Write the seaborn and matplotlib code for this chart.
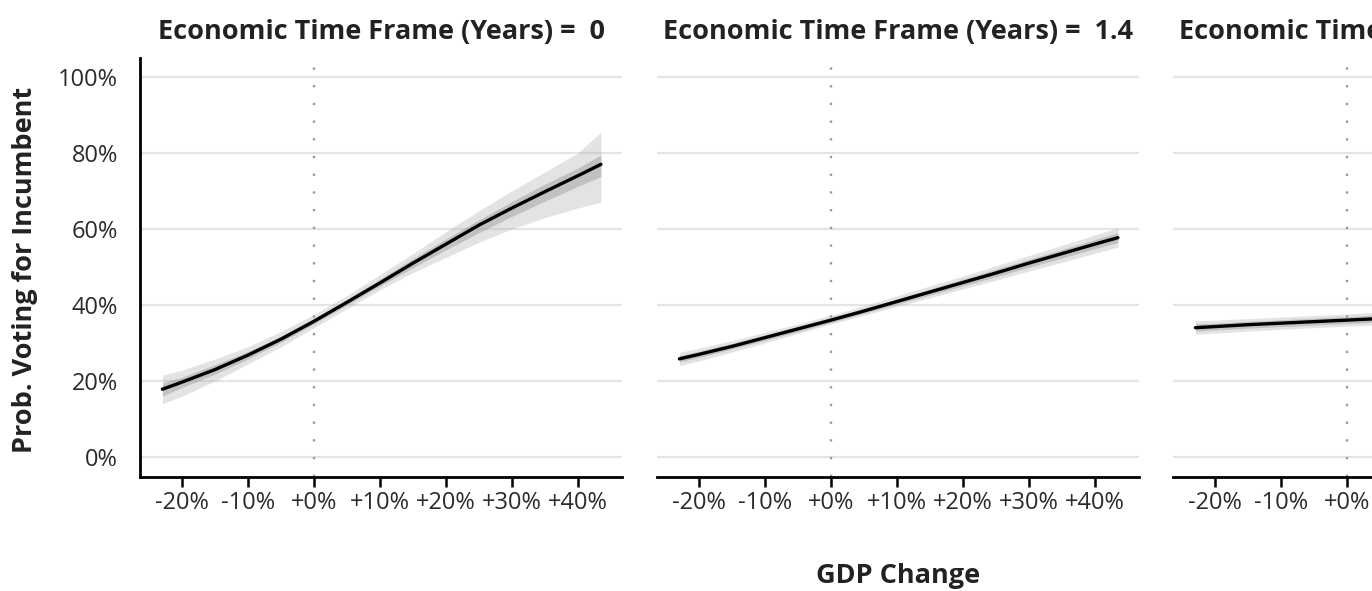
import matplotlib
matplotlib.use("Agg")
import matplotlib.pyplot as plt
import seaborn as sns
import pandas as pd
import numpy as np

# ---------------- data ----------------
gdp_change = [-23, -20, -15, -10, -5, 0, 5, 10, 15, 20, 25, 30, 35, 40, 43.5]
time_frames = ["0", "1.4", "2.8"]

prob_tf0 = [17.8, 19.7, 23.0, 26.8, 31.0, 35.7, 40.7, 45.8, 51.0, 56.0, 61.0, 65.5, 69.8, 74.0, 77.0]
prob_tf1 = [25.8, 27.0, 29.1, 31.4, 33.7, 36.0, 38.4, 40.9, 43.4, 45.9, 48.4, 51.0, 53.5, 56.0, 57.7]
prob_tf2 = [34.0, 34.3, 34.8, 35.2, 35.6, 36.0, 36.4, 36.9, 37.3, 37.8, 38.2, 38.7, 39.1, 39.6, 39.9]

outer_hi_tf0 = [21.5, 22.8, 25.8, 29.0, 33.0, 37.5, 42.5, 48.0, 53.5, 59.3, 64.8, 70.0, 75.0, 80.0, 85.5]
outer_lo_tf0 = [14.0, 16.0, 20.0, 24.5, 29.0, 34.0, 39.0, 44.0, 48.5, 52.5, 56.5, 60.0, 63.0, 65.5, 67.0]
inner_hi_tf0 = [19.5, 21.0, 24.3, 27.8, 31.8, 36.5, 41.5, 46.8, 52.2, 57.4, 62.4, 67.2, 71.8, 76.0, 79.5]
inner_lo_tf0 = [16.0, 18.3, 21.8, 25.8, 30.2, 35.0, 40.0, 45.0, 49.8, 54.5, 59.0, 63.3, 67.3, 71.2, 73.8]

outer_hi_tf1 = [27.5, 28.6, 30.6, 32.8, 35.0, 37.3, 39.8, 42.4, 45.0, 47.6, 50.3, 53.0, 55.7, 58.4, 60.3]
outer_lo_tf1 = [24.0, 25.3, 27.6, 30.0, 32.5, 35.0, 37.3, 39.6, 41.9, 44.2, 46.5, 48.9, 51.2, 53.6, 55.2]
inner_hi_tf1 = [26.6, 27.8, 29.9, 32.1, 34.4, 36.7, 39.1, 41.6, 44.2, 46.8, 49.4, 52.0, 54.6, 57.2, 59.0]
inner_lo_tf1 = [25.0, 26.2, 28.4, 30.7, 33.0, 35.4, 37.8, 40.2, 42.6, 45.0, 47.4, 49.9, 52.3, 54.8, 56.4]

outer_hi_tf2 = [35.8, 36.0, 36.4, 36.8, 37.2, 37.6, 38.1, 38.6, 39.1, 39.6, 40.1, 40.6, 41.1, 41.6, 42.0]
outer_lo_tf2 = [32.3, 32.6, 33.1, 33.6, 34.0, 34.4, 34.8, 35.2, 35.6, 36.0, 36.4, 36.8, 37.2, 37.6, 37.9]
inner_hi_tf2 = [35.0, 35.2, 35.7, 36.1, 36.5, 36.9, 37.4, 37.8, 38.3, 38.8, 39.2, 39.7, 40.2, 40.6, 41.0]
inner_lo_tf2 = [33.1, 33.4, 33.9, 34.3, 34.7, 35.1, 35.5, 35.9, 36.3, 36.8, 37.2, 37.6, 38.1, 38.5, 38.8]

x_ticks = [-20, -10, 0, 10, 20, 30, 40]
x_tick_labels = ["-20%", "-10%", "+0%", "+10%", "+20%", "+30%", "+40%"]
y_ticks = [0, 20, 40, 60, 80, 100]
y_tick_labels = ["0%", "20%", "40%", "60%", "80%", "100%"]

panels = [
    (prob_tf0, outer_lo_tf0, outer_hi_tf0, inner_lo_tf0, inner_hi_tf0),
    (prob_tf1, outer_lo_tf1, outer_hi_tf1, inner_lo_tf1, inner_hi_tf1),
    (prob_tf2, outer_lo_tf2, outer_hi_tf2, inner_lo_tf2, inner_hi_tf2),
]

# ---------------- style ----------------
sns.set_theme(style="white")
plt.rcParams["font.family"] = ["Open Sans", "DejaVu Sans"]

W, H = 1372, 591
fig = plt.figure(figsize=(W / 100, H / 100), dpi=100)
fig.patch.set_facecolor("white")

ax_lefts = [140, 657, 1173]
ax_w = 482
ax_top, ax_bottom = 58, 477
tick_fs = 17
head_fs = 19.5

for i, (tf, (prob, olo, ohi, ilo, ihi)) in enumerate(zip(time_frames, panels)):
    ax = fig.add_axes([ax_lefts[i] / W, (H - ax_bottom) / H, ax_w / W, (ax_bottom - ax_top) / H])
    ax.set_facecolor("white")
    for y in y_ticks:
        ax.axhline(y, color="#e4e4e4", lw=1.6, zorder=0)
    ax.axvline(0, color="#9a9a9a", lw=1.7, linestyle=(0, (1, 6.5)), zorder=1)

    ax.fill_between(gdp_change, olo, ohi, color="#b0b0b0", alpha=0.35, lw=0, zorder=2)
    ax.fill_between(gdp_change, ilo, ihi, color="#909090", alpha=0.4, lw=0, zorder=3)

    df = pd.DataFrame({"GDP Change": gdp_change, "Prob": prob})
    sns.lineplot(data=df, x="GDP Change", y="Prob", ax=ax, color="black", lw=2.4, zorder=5)

    ax.set_xlim(-26.4, 46.7)
    ax.set_ylim(-5.3, 105)
    ax.set_xticks(x_ticks)
    ax.set_xticklabels(x_tick_labels, fontsize=tick_fs, color="#2b2b2b")
    ax.tick_params(axis="x", length=7, width=1.8, color="black", pad=3, bottom=True)
    ax.set_xlabel("")
    ax.set_ylabel("")
    for s in ["top", "right"]:
        ax.spines[s].set_visible(False)
    ax.spines["bottom"].set_color("black")
    ax.spines["bottom"].set_linewidth(2.0)
    if i == 0:
        ax.spines["left"].set_color("black")
        ax.spines["left"].set_linewidth(2.0)
        ax.set_yticks(y_ticks)
        ax.set_yticklabels(y_tick_labels, fontsize=tick_fs, color="#2b2b2b")
        ax.tick_params(axis="y", length=0, pad=16)
    else:
        ax.spines["left"].set_visible(False)
        ax.set_yticks(y_ticks)
        ax.set_yticklabels([])
        ax.tick_params(axis="y", length=0)
    ax.set_title(f"Economic Time Frame (Years) =  {tf}", fontsize=head_fs, fontweight="bold",
                 color="#222222", pad=14)

fig.text(25 / W, 1 - 270 / H, "Prob. Voting for Incumbent", rotation=90, ha="center", va="center",
         fontsize=head_fs, fontweight="bold", color="#222222")
fig.text(898 / W, 1 - 576 / H, "GDP Change", ha="center", va="center",
         fontsize=head_fs, fontweight="bold", color="#222222")

fig.savefig("out.png", dpi=100, facecolor="white")
